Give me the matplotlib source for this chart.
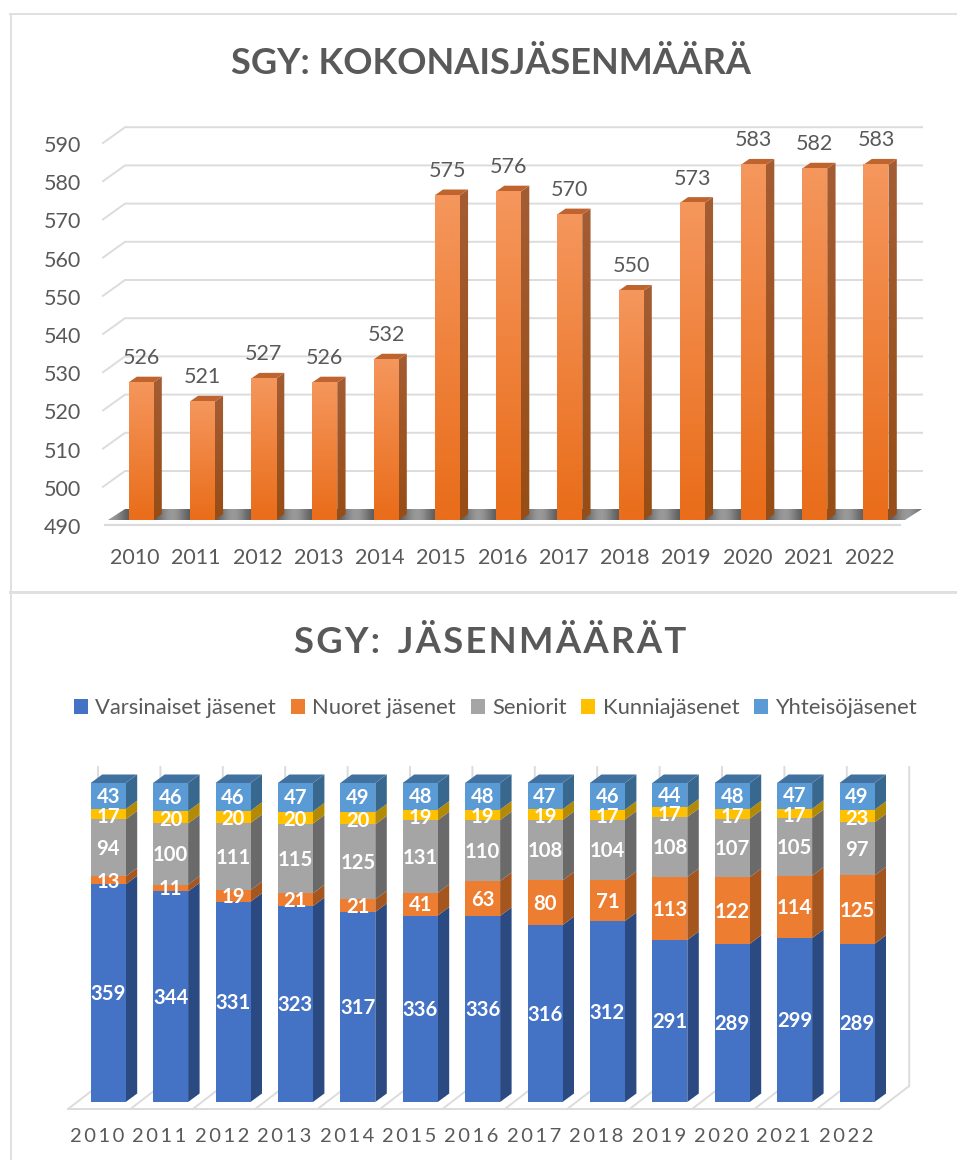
import numpy as np
import matplotlib
matplotlib.use('Agg')
import matplotlib.pyplot as plt
from matplotlib.colors import to_rgb
from matplotlib.lines import Line2D
from matplotlib.patches import Polygon, Patch
from matplotlib.transforms import ScaledTranslation

plt.rcParams['font.family'] = ['Lato', 'DejaVu Sans']

years = ['2010', '2011', '2012', '2013', '2014', '2015', '2016', '2017', '2018', '2019', '2020', '2021', '2022']
totals = [526, 521, 527, 526, 532, 575, 576, 570, 550, 573, 583, 582, 583]
y_ticks = [490, 500, 510, 520, 530, 540, 550, 560, 570, 580, 590]

series_names = ['Varsinaiset jäsenet', 'Nuoret jäsenet', 'Seniorit', 'Kunniajäsenet', 'Yhteisöjäsenet']
varsinaiset = [359, 344, 331, 323, 317, 336, 336, 316, 312, 291, 289, 299, 289]
nuoret = [13, 11, 19, 21, 21, 41, 63, 80, 71, 113, 122, 114, 125]
seniorit = [94, 100, 111, 115, 125, 131, 110, 108, 104, 108, 107, 105, 97]
kunnia = [17, 20, 20, 20, 20, 19, 19, 19, 17, 17, 17, 17, 23]
yhteiso = [43, 46, 46, 47, 49, 48, 48, 47, 46, 44, 48, 47, 49]

front_cols = ['#4472C4', '#ED7D31', '#A5A5A5', '#FFC000', '#5B9BD5']
side_cols = ['#2B4A82', '#A5561F', '#6A6A6A', '#B38A05', '#39688F']
label_nudge = [1.2, 1.2, 1.2, 2.6, 0.6]
GRID = '#dcdcdc'
TXT = '#595959'
W, H = 957, 1160
XS = list(range(len(years)))

fig = plt.figure(figsize=(W / 100, H / 100), dpi=100, facecolor='white')


def box(l, t, r, b):
    a = fig.add_axes([l / W, 1 - b / H, (r - l) / W, (b - t) / H])
    a.patch.set_alpha(0)
    for s in a.spines.values():
        s.set_visible(False)
    return a


def px_offset(dx, dy):
    return ScaledTranslation(dx / 100, -dy / 100, fig.dpi_scale_trans)


def gradient(ax, clip, x0, x1, y0, y1, top, bottom, z):
    t, b = np.array(to_rgb(top)), np.array(to_rgb(bottom))
    arr = np.linspace(b, t, 32).reshape(32, 1, 3)
    im = ax.imshow(arr, extent=(x0, x1, y0, y1), origin='lower', aspect='auto', zorder=z, interpolation='bilinear')
    im.set_clip_path(clip)
    im.set_clip_box(fig.bbox)


def spaced(s, sep='\u2009'):
    return sep.join(s)


# borders of the two pasted charts
for xs, ys, lw in [((10.5, 10.5), (14, 1160), 2.0), ((10, 957), (14, 14), 2.0), ((10, 957), (592, 592), 3.0)]:
    fig.add_artist(Line2D([x / W for x in xs], [1 - y / H for y in ys], color='#e0e0e0', lw=lw * 0.72))

# ---- top chart
step1 = 61.25
ppu = 3.82
ax1 = box(141 - step1 / 2, 520 - 100 * ppu, 876 + step1 / 2, 520)
ux = 1 / step1
uy = 1 / ppu
bar_w = 25 * ux
dep_x, dep_y = 8.3 * ux, 5.8 * uy

x_left = -0.5 + (103 - (141 - step1 / 2)) * ux
x_back = x_left + 22 * ux
x_right = x_back + (922 - 125) * ux

for v in y_ticks:
    if v == 490:
        continue
    ax1.plot([x_left, x_back, x_right], [v - 5 * uy, v + 10.8 * uy, v + 10.8 * uy], color=GRID, lw=1.4,
             clip_on=False, zorder=1, solid_joinstyle='miter')

floor = Polygon([(x_left + 5 * ux, 490), (x_back, 490 + 11 * uy), (x_right, 490 + 11 * uy), (x_right - 17 * ux, 490)],
                closed=True, fc='none', ec='none', clip_on=False)
ax1.add_patch(floor)
xx = np.linspace(-1, 14, 1500)
shade = 0.33 + 0.27 * np.cos(np.pi * (xx - 0.5)) ** 4
im = ax1.imshow(shade.reshape(1, -1), extent=(-1, 14, 490, 490 + 11 * uy), cmap='gray', vmin=0, vmax=1,
                aspect='auto', zorder=2)
im.set_clip_path(floor)
im.set_clip_box(fig.bbox)
ax1.plot([x_left + 2 * ux, x_left + (900 - 103) * ux], [490 - 5 * uy, 490 - 5 * uy], color=GRID, lw=1.6,
         clip_on=False, zorder=2)

bars = ax1.bar(XS, [t - 490 for t in totals], bottom=490, width=bar_w, color='#ED7D31', zorder=4)
for i, (b, t) in enumerate(zip(bars, totals)):
    r = i + bar_w / 2
    side = Polygon([(r, 490), (r + dep_x, 490 + dep_y), (r + dep_x, t + dep_y), (r, t)], closed=True, fc='none', ec='none')
    ax1.add_patch(side)
    gradient(ax1, side, r, r + dep_x, 490, t + dep_y, '#A45C33', '#974D15', 3)
    ax1.add_patch(Polygon([(r - bar_w, t), (r, t), (r + dep_x, t + dep_y), (r - bar_w + dep_x, t + dep_y)], closed=True,
                          fc='#C0642F', ec='none', zorder=3))
    gradient(ax1, b, r - bar_w, r, 490, t, '#F5965C', '#E96D1A', 4.5)
    ax1.annotate(str(t), (i, t), xytext=(0, 17.5), textcoords='offset points', ha='center', va='center',
                 fontsize=15.5, color=TXT, zorder=6, annotation_clip=False)

ax1.set_xlim(-0.5, 12.5)
ax1.set_ylim(490, 590)
ax1.set_xticks(XS, years)
ax1.set_yticks(y_ticks)
ax1.tick_params(axis='both', length=0, labelsize=15.5, labelcolor=TXT)
ax1.tick_params(axis='x', pad=20)
ax1.tick_params(axis='y', pad=21)
for lab in ax1.get_xticklabels():
    lab.set_transform(lab.get_transform() + px_offset(-6, 0))
for lab in ax1.get_yticklabels():
    lab.set_transform(lab.get_transform() + px_offset(0, 6))
fig.text(491 / W, 1 - 63.5 / H, 'SGY: KOKONAISJÄSENMÄÄRÄ', ha='center', va='center', fontsize=26, fontweight='bold', color=TXT)

# ---- bottom chart, 100 % stacked
step2 = 62.4
ax2 = box(108.2 - step2 / 2, 783, 108.2 + 12 * step2 + step2 / 2, 1102)
ppp = 3.19
vx = 1 / step2
vy = 1 / ppp
bar_w2 = 35 * vx
dep2_x, dep2_y = 11.5 * vx, 8.5 * vy

fl_x0 = -0.5 + (68 - (108.2 - step2 / 2)) * vx
fl_front = -7 * vy
fl_back = 16 * vy
slant = 30 * vx
ax2.plot([fl_x0, fl_x0 + 13], [fl_front, fl_front], color=GRID, lw=1.4, clip_on=False, zorder=1)
for k in range(14):
    x0 = fl_x0 + k
    ax2.plot([x0, x0 + slant, x0 + slant], [fl_front, fl_back, 100 + 16 * vy], color=GRID, lw=1.4, clip_on=False, zorder=1,
             solid_joinstyle='miter')

series = [varsinaiset, nuoret, seniorit, kunnia, yhteiso]
totals2 = np.sum(series, axis=0)
bottom = np.zeros(len(years))
handles = []
for vals, fc, sc, name, nudge in zip(series, front_cols, side_cols, series_names, label_nudge):
    pct = np.array(vals) / totals2 * 100
    ax2.bar(XS, pct, bottom=bottom, width=bar_w2, color=fc, zorder=4)
    handles.append(Patch(fc=fc, label=name))
    for i in XS:
        r = i + bar_w2 / 2
        lo, hi = bottom[i], bottom[i] + pct[i]
        ax2.add_patch(Polygon([(r, lo), (r + dep2_x, lo + dep2_y), (r + dep2_x, hi + dep2_y), (r, hi)], closed=True,
                              fc=sc, ec='none', zorder=3, clip_on=False))
        ax2.text(i, (lo + hi) / 2 - nudge * vy, str(vals[i]), ha='center', va='center', color='white', fontsize=14.6,
                 fontweight='bold', zorder=6)
    bottom = bottom + pct

for i in XS:
    l = i - bar_w2 / 2
    ax2.add_patch(Polygon([(l, 100), (l + bar_w2, 100), (l + bar_w2 + dep2_x, 100 + dep2_y), (l + dep2_x, 100 + dep2_y)],
                          closed=True, fc='#41729F', ec='none', zorder=3, clip_on=False))

ax2.set_xlim(-0.5, 12.5)
ax2.set_ylim(0, 100)
ax2.set_yticks([])
ax2.set_xticks(XS, [spaced(y) for y in years])
ax2.tick_params(axis='x', length=0, labelsize=14.5, labelcolor=TXT, pad=18.7)
for lab in ax2.get_xticklabels():
    lab.set_transform(lab.get_transform() + px_offset(-11, 0))

leg = ax2.legend(handles=handles, loc='center', bbox_to_anchor=(495.5 / W, 1 - 708 / H), bbox_transform=fig.transFigure,
                 ncol=5, frameon=False, fontsize=15.85, labelcolor=TXT, handlelength=0.64, handleheight=0.64,
                 handletextpad=0.32, columnspacing=0.68, borderpad=0, borderaxespad=0)
fig.text(490.5 / W, 1 - 642 / H, '\u200a'.join('SGY:') + '  ' + '\u200a'.join('JÄSENMÄÄRÄT'), ha='center', va='center',
         fontsize=26.3, fontweight='bold', color=TXT)

fig.savefig('out.png', dpi=100, facecolor='white')
